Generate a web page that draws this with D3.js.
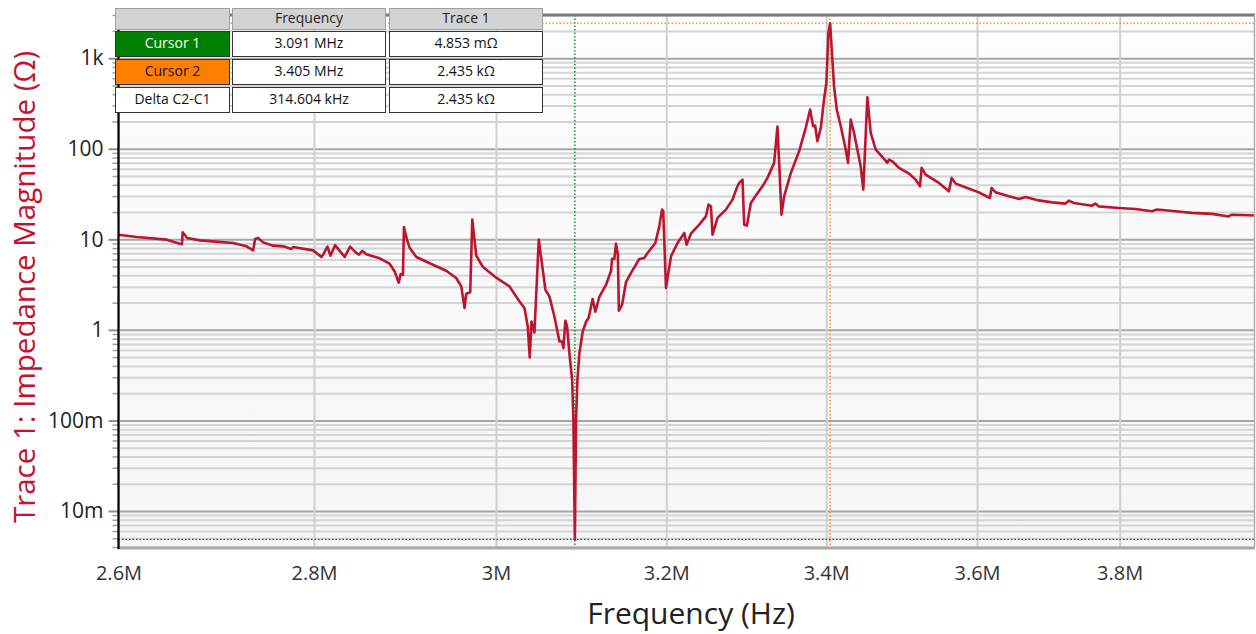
<!DOCTYPE html>
<html>
<head>
<meta charset="utf-8">
<script src="https://cdn.jsdelivr.net/npm/d3@7"></script>
<style>
  body { margin: 0; background: #fff; font-family: "Open Sans", "Noto Sans", sans-serif; }
  .tick text { font-family: "Open Sans", "Noto Sans", sans-serif; }
</style>
</head>
<body>
<div id="chart"></div>
<script>
// trace 1: impedance magnitude vs frequency
var freqMHz = [
  2.6000, 2.6180, 2.6479, 2.6612, 2.6633, 2.6640, 2.6686, 2.6815, 2.7155, 2.7293,
  2.7361, 2.7382, 2.7413, 2.7465, 2.7569, 2.7674, 2.7762, 2.7779, 2.7990, 2.8079,
  2.8103, 2.8143, 2.8175, 2.8224, 2.8328, 2.8385, 2.8446, 2.8481, 2.8518, 2.8561,
  2.8705, 2.8814, 2.8869, 2.8913, 2.8935, 2.8960, 2.8971, 2.9004, 2.9033, 2.9107,
  2.9291, 2.9439, 2.9551, 2.9607, 2.9644, 2.9663, 2.9708, 2.9731, 2.9776, 2.9850,
  3.0002, 3.0153, 3.0268, 3.0325, 3.0363, 3.0386, 3.0406, 3.0440, 3.0490, 3.0567,
  3.0613, 3.0671, 3.0730, 3.0761, 3.0776, 3.0799, 3.0819, 3.0846, 3.0878, 3.0893,
  3.0910, 3.0924, 3.0940, 3.0963, 3.1002, 3.1042, 3.1072, 3.1119, 3.1151, 3.1198,
  3.1278, 3.1337, 3.1349, 3.1376, 3.1396, 3.1418, 3.1430, 3.1468, 3.1515, 3.1575,
  3.1674, 3.1734, 3.1774, 3.1867, 3.1915, 3.1948, 3.1963, 3.1996, 3.2057, 3.2137,
  3.2219, 3.2247, 3.2300, 3.2402, 3.2484, 3.2516, 3.2546, 3.2566, 3.2627, 3.2731,
  3.2813, 3.2875, 3.2897, 3.2938, 3.2959, 3.2993, 3.3042, 3.3105, 3.3188, 3.3251,
  3.3335, 3.3377, 3.3398, 3.3428, 3.3462, 3.3547, 3.3652, 3.3738, 3.3793, 3.3831,
  3.3857, 3.3886, 3.3930, 3.3972, 3.4002, 3.4028, 3.4050, 3.4071, 3.4101, 3.4136,
  3.4188, 3.4252, 3.4282, 3.4317, 3.4360, 3.4403, 3.4447, 3.4481, 3.4534, 3.4578,
  3.4644, 3.4753, 3.4796, 3.4818, 3.4862, 3.4951, 3.5083, 3.5172, 3.5230, 3.5252,
  3.5306, 3.5484, 3.5618, 3.5655, 3.5709, 3.5866, 3.6025, 3.6176, 3.6199, 3.6254,
  3.6437, 3.6575, 3.6668, 3.6853, 3.7039, 3.7227, 3.7274, 3.7344, 3.7604, 3.7652,
  3.7699, 3.7986, 3.8227, 3.8468, 3.8541, 3.8810, 3.9055, 3.9352, 3.9601, 3.9651,
  4.0000
];
var impedanceOhm = [
  11.25, 10.61, 9.91, 8.95, 8.84, 11.93, 10.35, 9.73, 9.11, 8.36,
  7.55, 10.09, 10.35, 9.25, 8.51, 8.36, 7.82, 8.23, 7.55, 6.38,
  6.94, 8.29, 6.59, 8.61, 6.38, 8.29, 7.17, 6.76, 7.43, 6.82,
  6.16, 5.38, 4.42, 3.32, 4.14, 4.07, 13.62, 9.91, 8.08, 6.38,
  5.24, 4.50, 3.74, 3.02, 1.742, 2.51, 2.60, 16.49, 6.59, 4.98,
  3.77, 3.02, 2.06, 1.742, 1.090, 0.495, 1.238, 0.936, 9.91, 2.77,
  2.34, 1.406, 0.744, 0.744, 0.629, 1.261, 1.090, 0.554, 0.281, 0.1014,
  0.004853, 0.1014, 0.281, 0.554, 0.960, 1.229, 1.360, 2.19, 1.585, 2.32,
  3.15, 4.50, 6.11, 6.06, 8.95, 6.76, 1.626, 1.894, 3.36, 4.25,
  6.06, 6.22, 7.06, 9.11, 13.90, 21.27, 20.37, 2.90, 6.48, 9.11,
  11.75, 8.73, 11.54, 14.51, 17.93, 24.15, 23.13, 11.25, 17.22, 21.27,
  27.43, 38.48, 41.97, 45.64, 14.51, 14.16, 25.22, 30.38, 38.48, 47.66,
  69.8, 175.9, 72.7, 18.73, 29.84, 54.1, 93.8, 171.5, 271.2, 177.3,
  180.5, 121.0, 170.2, 349.8, 535.1, 1910, 2435, 1249, 490.7, 271.2,
  177.3, 97.9, 69.8, 210.2, 149.9, 97.9, 64.0, 35.4, 370.9, 149.9,
  97.9, 77.3, 69.8, 75.9, 72.7, 61.5, 53.2, 45.64, 38.48, 61.5,
  51.8, 41.97, 33.9, 47.66, 41.2, 36.9, 33.0, 28.6, 36.9, 33.0,
  29.84, 27.9, 29.4, 26.9, 25.6, 24.8, 26.7, 25.2, 23.5, 24.8,
  23.1, 22.2, 21.6, 20.4, 21.3, 20.4, 19.6, 19.1, 17.9, 18.7,
  18.3
];

var xTicks = [2.6e6, 2.8e6, 3.0e6, 3.2e6, 3.4e6, 3.6e6, 3.8e6];
var xTickLabels = ["2.6M", "2.8M", "3M", "3.2M", "3.4M", "3.6M", "3.8M"];
var yTicks = [1e-2, 1e-1, 1, 10, 100, 1000];
var yTickLabels = ["10m", "100m", "1", "10", "100", "1k"];

// cursor readout
var cursorNames = ["Cursor 1", "Cursor 2", "Delta C2-C1"];
var cursorFreqText = ["3.091 MHz", "3.405 MHz", "314.604 kHz"];
var cursorTraceText = ["4.853 m\u03A9", "2.435 k\u03A9", "2.435 k\u03A9"];
var cursorFreqHz = [3.091e6, 3.405e6];
var cursorOhm = [0.004853, 2435];
var cursorColors = ["#008000", "#ff8000"];

var svgWidth = 1256;
var svgHeight = 634;
var margin = { top: 15, right: 1, bottom: 87, left: 118.5 };
var width = svgWidth - margin.left - margin.right;
var height = svgHeight - margin.top - margin.bottom;

var svg = d3.select("#chart")
  .append("svg")
  .attr("width", svgWidth)
  .attr("height", svgHeight);

var defs = svg.append("defs");
var grad = defs.append("linearGradient")
  .attr("id", "bg").attr("x1", 0).attr("y1", 0).attr("x2", 0).attr("y2", 1);
grad.append("stop").attr("offset", "0%").attr("stop-color", "#fdfdfd");
grad.append("stop").attr("offset", "100%").attr("stop-color", "#f5f5f5");

var chartGroup = svg.append("g")
  .attr("transform", `translate(${margin.left}, ${margin.top})`);

// scales
var xScale = d3.scaleLog().domain([2.6e6, 4.0e6]).range([0, width]);
var yScale = d3.scaleLog().domain([4e-3, 3e3]).range([height, 0]);

chartGroup.append("rect")
  .attr("width", width)
  .attr("height", height)
  .attr("fill", "url(#bg)");

// minor values 2..9 per decade
var yMinor = [];
for (var e = -3; e <= 3; e++) {
  for (var m = 2; m <= 9; m++) {
    var v = m * Math.pow(10, e);
    if (v >= 4e-3 && v <= 3e3) yMinor.push(v);
  }
}

// horizontal grid: minor then major
chartGroup.append("g")
  .attr("class", "grid-minor")
  .call(d3.axisLeft(yScale).tickValues(yMinor).tickSize(-width).tickFormat(""))
  .call(g => g.select(".domain").remove())
  .call(g => g.selectAll("line").attr("stroke", "#d4d4d4").attr("stroke-width", 2));

chartGroup.append("g")
  .attr("class", "grid-major")
  .call(d3.axisLeft(yScale).tickValues(yTicks).tickSize(-width).tickFormat(""))
  .call(g => g.select(".domain").remove())
  .call(g => g.selectAll("line").attr("stroke", "#a6a6a6").attr("stroke-width", 2));

// vertical grid
chartGroup.append("g")
  .attr("class", "grid-x")
  .attr("transform", `translate(0, ${height})`)
  .call(d3.axisBottom(xScale).tickValues(xTicks).tickSize(-height).tickFormat(""))
  .call(g => g.select(".domain").remove())
  .call(g => g.selectAll("line").attr("stroke", "#d0d0d0").attr("stroke-width", 2));

// cursor lines
cursorFreqHz.forEach(function(f, i) {
  chartGroup.append("line")
    .attr("x1", xScale(f)).attr("x2", xScale(f))
    .attr("y1", 0).attr("y2", height)
    .attr("stroke", cursorColors[i]).attr("stroke-width", 1.3)
    .attr("stroke-dasharray", "1.5,2");
  chartGroup.append("line")
    .attr("x1", 0).attr("x2", width)
    .attr("y1", yScale(cursorOhm[i])).attr("y2", yScale(cursorOhm[i]))
    .attr("stroke", cursorColors[i]).attr("stroke-width", 1.3)
    .attr("stroke-dasharray", "1.5,2");
});

// trace
var traceData = freqMHz.map(function(f, i) {
  return { f: f * 1e6, z: impedanceOhm[i] };
});

var line = d3.line()
  .x(d => xScale(d.f))
  .y(d => yScale(d.z));

chartGroup.append("path")
  .datum(traceData)
  .attr("fill", "none")
  .attr("stroke", "#bb1530")
  .attr("stroke-width", 2.6)
  .attr("stroke-linejoin", "round")
  .attr("d", line);

// plot frame
chartGroup.append("line")
  .attr("x1", 0).attr("x2", width).attr("y1", 0).attr("y2", 0)
  .attr("stroke", "#7a7a7a").attr("stroke-width", 3);
chartGroup.append("line")
  .attr("x1", 0).attr("x2", width).attr("y1", height + 1).attr("y2", height + 1)
  .attr("stroke", "#a8a8a8").attr("stroke-width", 3);
chartGroup.append("line")
  .attr("x1", width - 0.5).attr("x2", width - 0.5).attr("y1", 0).attr("y2", height)
  .attr("stroke", "#b0b0b0").attr("stroke-width", 1.5);

// x axis labels
chartGroup.append("g")
  .attr("transform", `translate(0, ${height})`)
  .call(d3.axisBottom(xScale).tickValues(xTicks).tickSize(0).tickPadding(19)
    .tickFormat((d, i) => xTickLabels[i]))
  .call(g => g.select(".domain").remove())
  .call(g => g.selectAll("text").attr("font-size", 20).attr("fill", "#333"));

// y axis: minor ticks, major ticks + labels
chartGroup.append("g")
  .call(d3.axisLeft(yScale).tickValues(yMinor).tickSize(6).tickFormat(""))
  .call(g => g.select(".domain").remove())
  .call(g => g.selectAll("line").attr("stroke", "#a0a0a0").attr("stroke-width", 1.5));

chartGroup.append("g")
  .call(d3.axisLeft(yScale).tickValues(yTicks).tickSize(10).tickPadding(5)
    .tickFormat((d, i) => yTickLabels[i]))
  .call(g => g.select(".domain").remove())
  .call(g => g.selectAll("line").attr("stroke", "#909090").attr("stroke-width", 2))
  .call(g => g.selectAll("text").attr("font-size", 21).attr("fill", "#222"));

chartGroup.append("line")
  .attr("x1", 0).attr("x2", 0).attr("y1", 0).attr("y2", height + 2)
  .attr("stroke", "#000").attr("stroke-width", 2.2);

// axis titles
svg.append("text")
  .attr("transform", `translate(27, ${margin.top + height / 2 + 6}) rotate(-90)`)
  .attr("text-anchor", "middle")
  .attr("dominant-baseline", "middle")
  .attr("font-size", 29.5)
  .attr("fill", "#c4122f")
  .text("Trace 1: Impedance Magnitude (\u03A9)");

svg.append("text")
  .attr("x", 691)
  .attr("y", 616)
  .attr("text-anchor", "middle")
  .attr("dominant-baseline", "middle")
  .attr("font-size", 30)
  .attr("fill", "#222")
  .text("Frequency (Hz)");

// cursor table
var colX = [115, 232, 389];
var colW = [115, 154, 154];
var rowY = [31, 59, 87];
var rowH = 26;

var table = svg.append("g").attr("class", "cursor-table");

var headerTexts = ["", "Frequency", "Trace 1"];
headerTexts.forEach(function(t, c) {
  table.append("rect")
    .attr("x", colX[c] + 0.5).attr("y", 8.5)
    .attr("width", colW[c] - 1).attr("height", 21)
    .attr("fill", "#d3d3d3").attr("stroke", "#a0a0a0");
  table.append("text")
    .attr("x", colX[c] + colW[c] / 2).attr("y", 19)
    .attr("text-anchor", "middle").attr("dominant-baseline", "middle")
    .attr("font-size", 14).attr("fill", "#222")
    .text(t);
});

cursorNames.forEach(function(name, r) {
  var cells = [name, cursorFreqText[r], cursorTraceText[r]];
  cells.forEach(function(t, c) {
    var fill = "#fff";
    var txt = "#111";
    if (c === 0 && r < 2) {
      fill = cursorColors[r];
      txt = r === 0 ? "#fff" : "#111";
    }
    table.append("rect")
      .attr("x", colX[c] + 0.5).attr("y", rowY[r] + 0.5)
      .attr("width", colW[c] - 1).attr("height", rowH - 1)
      .attr("fill", fill).attr("stroke", "#333").attr("stroke-width", 1);
    table.append("text")
      .attr("x", colX[c] + colW[c] / 2).attr("y", rowY[r] + rowH / 2 + 0.5)
      .attr("text-anchor", "middle").attr("dominant-baseline", "middle")
      .attr("font-size", 14).attr("fill", txt)
      .text(t);
  });
});
</script>
</body>
</html>
